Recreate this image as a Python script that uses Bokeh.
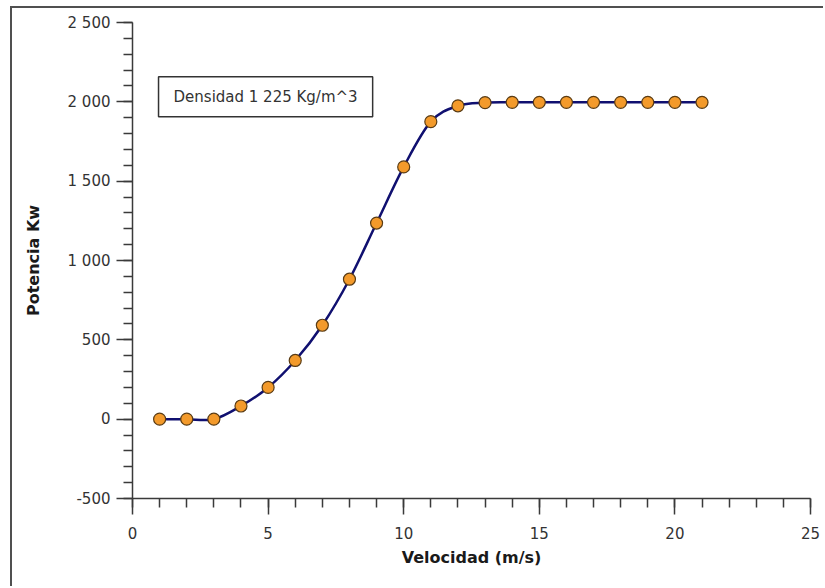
from bokeh.plotting import figure
from bokeh.models import Range1d, SingleIntervalTicker, Label
from bokeh.embed import file_html
from bokeh.resources import INLINE

# Data
velocidad = [1, 2, 3, 4, 5, 6, 7, 8, 9, 10, 11, 12, 13, 14, 15, 16, 17, 18, 19, 20, 21]
potencia = [0, 0, 0, 83, 200, 370, 592, 882, 1236, 1590, 1875, 1975, 1995, 1997, 1997, 1997,
            1997, 1997, 1997, 1997, 1997]

x_ticks = [0, 5, 10, 15, 20, 25]
y_ticks = [-500, 0, 500, 1000, 1500, 2000, 2500]
y_tick_labels = ["-500", "0", "500", "1 000", "1 500", "2 000", "2 500"]

x_label = "Velocidad (m/s)"
y_label = "Potencia Kw"
note = "Densidad 1 225 Kg/m^3"

FONT = "DejaVu Sans"
AX = "#3a3a3a"

p = figure(width=813, height=580, output_backend="svg", toolbar_location=None,
           x_range=Range1d(x_ticks[0], x_ticks[-1]), y_range=Range1d(y_ticks[0], y_ticks[-1]),
           min_border_left=120, min_border_right=15, min_border_top=14, min_border_bottom=90)
p.styles = {"margin-left": "10px", "margin-top": "6px",
            "border-top": "2px solid #505050", "border-left": "2px solid #505050",
            "overflow": "hidden"}
p.outline_line_color = None
p.grid.visible = False
p.background_fill_color = "white"
p.border_fill_color = "white"

p.xaxis.ticker = SingleIntervalTicker(interval=5, num_minor_ticks=5)
p.yaxis.ticker = SingleIntervalTicker(interval=500, num_minor_ticks=5)
p.yaxis.major_label_overrides = {t: s for t, s in zip(y_ticks, y_tick_labels)}

for ax in (p.xaxis[0], p.yaxis[0]):
    ax.axis_line_color = AX
    ax.axis_line_width = 1.5
    ax.major_tick_line_color = AX
    ax.minor_tick_line_color = AX
    ax.major_tick_line_width = 1.5
    ax.minor_tick_line_width = 1.5
    ax.major_tick_in = 0
    ax.minor_tick_in = 0
    ax.major_tick_out = 16
    ax.minor_tick_out = 9
    ax.major_label_text_font = FONT
    ax.major_label_text_font_size = "15px"
    ax.major_label_text_color = "#333333"
    ax.axis_label_text_font = FONT
    ax.axis_label_text_font_size = "16px"
    ax.axis_label_text_font_style = "bold"
    ax.axis_label_text_color = "#1a1a1a"

p.xaxis.axis_label = x_label
p.yaxis.axis_label = y_label
p.xaxis.major_label_standoff = 12
p.xaxis.axis_label_standoff = 6
p.yaxis.major_label_standoff = 6
p.yaxis.axis_label_standoff = 22

# smooth curve through the points (Catmull-Rom as cubic Bezier segments)
n = len(velocidad)
x0, y0, x1, y1, cx0, cy0, cx1, cy1 = [], [], [], [], [], [], [], []
for i in range(n - 1):
    pm = max(i - 1, 0)
    pp = min(i + 2, n - 1)
    x0.append(velocidad[i]); y0.append(potencia[i])
    x1.append(velocidad[i + 1]); y1.append(potencia[i + 1])
    cx0.append(velocidad[i] + (velocidad[i + 1] - velocidad[pm]) / 6)
    cy0.append(potencia[i] + (potencia[i + 1] - potencia[pm]) / 6)
    cx1.append(velocidad[i + 1] - (velocidad[pp] - velocidad[i]) / 6)
    cy1.append(potencia[i + 1] - (potencia[pp] - potencia[i]) / 6)

p.bezier(x0=x0, y0=y0, x1=x1, y1=y1, cx0=cx0, cy0=cy0, cx1=cx1, cy1=cy1,
         line_color="#101070", line_width=2.5)
p.scatter(velocidad, potencia, size=12, fill_color="#f39a2b", line_color="#5a3c14",
          line_width=1.2)

p.add_layout(Label(x=0.96, y=2032, text=note, text_font=FONT, text_font_size="15px",
                   text_color="#333333", text_baseline="middle", text_align="left",
                   border_line_color="#333333", border_line_width=1.5,
                   background_fill_color="white",
                   padding=dict(left=15, right=15, top=11, bottom=11)))

open("out.html", "w").write(file_html(p, INLINE))
